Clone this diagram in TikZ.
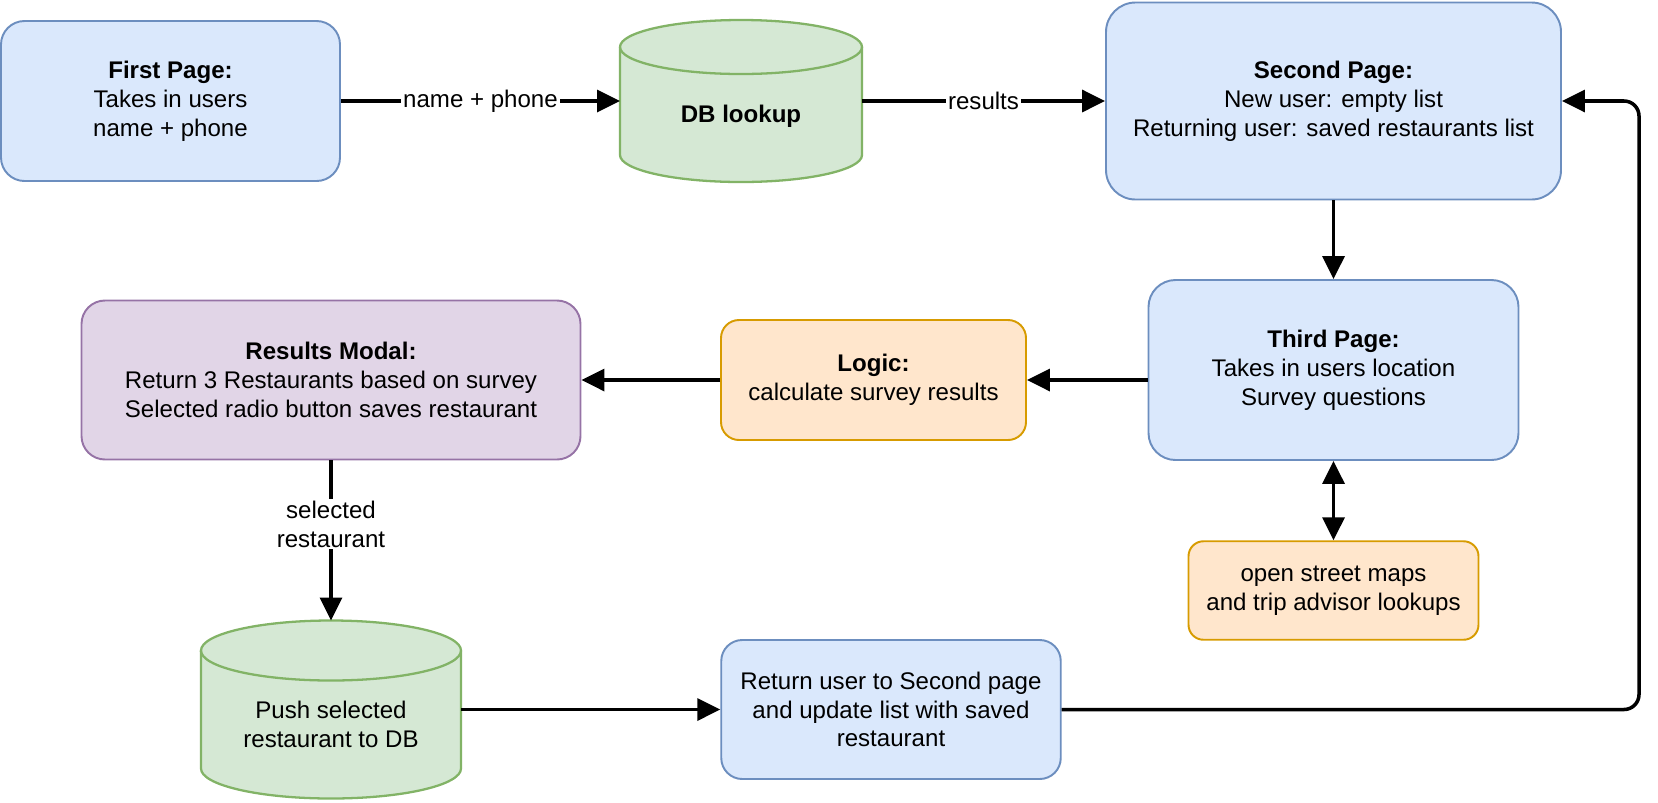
\documentclass[tikz,border=0pt]{standalone}
\usepackage{fontspec}
\setmainfont{Liberation Sans}
\usetikzlibrary{shapes,arrows.meta,positioning,backgrounds,calc}

\definecolor{pagefill}{HTML}{DAE8FC}
\definecolor{pagedraw}{HTML}{6C8EBF}
\definecolor{dbfill}{HTML}{D5E8D4}
\definecolor{dbdraw}{HTML}{82B366}
\definecolor{logicfill}{HTML}{FFE6CC}
\definecolor{logicdraw}{HTML}{D79B00}
\definecolor{modalfill}{HTML}{E1D5E7}
\definecolor{modaldraw}{HTML}{9673A6}

% database drum behind a named node: name, x radius, y radius
\newcommand{\dbdrum}[3]{%
  \draw[drum] ([yshift=-#3]#1.north west) -- ([yshift=#3]#1.south west)
    arc[start angle=180, end angle=360, x radius=#2, y radius=#3]
    -- ([yshift=-#3]#1.north east)
    arc[start angle=0, end angle=180, x radius=#2, y radius=#3] -- cycle;
  \draw[drum, fill=none] ([yshift=-#3]#1.north east)
    arc[start angle=0, end angle=-180, x radius=#2, y radius=#3];
}

\begin{document}
\begin{tikzpicture}[
    font=\fontsize{13.7}{16.4}\selectfont,
    >={Triangle[length=0.46cm, width=0.44cm]},
    page/.style={rectangle, draw=pagedraw, fill=pagefill, line width=1.1pt, align=center, rounded corners=0.47cm},
    logicbox/.style={page, draw=logicdraw, fill=logicfill},
    modal/.style={page, draw=modaldraw, fill=modalfill},
    dbnode/.style={rectangle, outer sep=0pt, inner sep=0pt},
    dbtext/.style={yshift=-0.3cm, align=center},
    drum/.style={draw=dbdraw, fill=dbfill, line width=1.3pt},
    link/.style={->, line width=2pt},
    tag/.style={fill=white, inner sep=1pt, align=center}
]
    \useasboundingbox (0,0) rectangle (33.16,-16.04);

    % Pages
    \node[page, minimum width=6.78cm, minimum height=3.2cm] (first) at (3.41,-2.02) {\textbf{First Page:}\\Takes in users\\name + phone};
    \node[page, minimum width=9.1cm, minimum height=3.94cm, rounded corners=0.59cm] (second) at (26.67,-2.02) {\textbf{Second Page:}\\New user: empty list\\Returning user: saved restaurants list};
    \node[page, minimum width=7.4cm, minimum height=3.6cm, rounded corners=0.54cm] (third) at (26.67,-7.4) {\textbf{Third Page:}\\Takes in users location\\Survey questions};
    \node[logicbox, minimum width=6.1cm, minimum height=2.4cm, rounded corners=0.36cm] (logic) at (17.47,-7.6) {\textbf{Logic:}\\calculate survey results};
    \node[modal, minimum width=9.98cm, minimum height=3.18cm] (results) at (6.62,-7.6) {\textbf{Results Modal:}\\Return 3 Restaurants based on survey\\Selected radio button saves restaurant};
    \node[logicbox, minimum width=5.8cm, minimum height=1.97cm, rounded corners=0.3cm] (osm) at (26.67,-11.81) {open street maps\\and trip advisor lookups};
    \node[page, minimum width=6.79cm, minimum height=2.78cm, rounded corners=0.42cm] (return) at (17.82,-14.19) {Return user to Second page\\and update list with saved\\restaurant};

    % Databases
    \node[dbnode, minimum width=4.84cm, minimum height=3.24cm, label={[dbtext]center:\textbf{DB lookup}}] (lookup) at (14.82,-2.02) {};
    \node[dbnode, minimum width=5.2cm, minimum height=3.56cm, label={[dbtext]center:{Push selected\\restaurant to DB}}] (push) at (6.62,-14.19) {};
    \begin{scope}[on background layer]
        \dbdrum{lookup}{2.42cm}{0.54cm}
        \dbdrum{push}{2.6cm}{0.6cm}
    \end{scope}

    \coordinate (turn) at (32.78,-2.02);

    % Arrows
    \draw[link] (first) -- node[tag] {name + phone} (lookup);
    \draw[link] (lookup) -- node[tag] {results} (second);
    \draw[link] (second) -- (third);
    \draw[link, <->] (third) -- (osm);
    \draw[link] (third.west |- logic.east) -- (logic.east);
    \draw[link] (logic) -- (results);
    \draw[link] (results) -- node[tag, pos=0.4] {selected\\restaurant} (push);
    \draw[link] (push) -- (return);
    \draw[link, rounded corners=0.3cm] (return.east) -| (turn) -- (second.east);

\end{tikzpicture}
\end{document}
